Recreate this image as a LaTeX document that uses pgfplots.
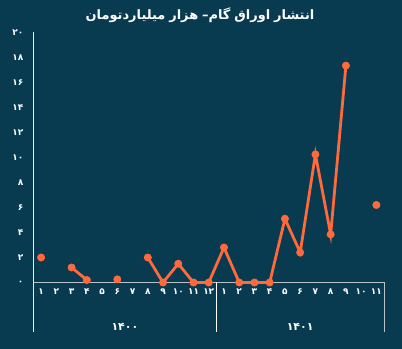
\documentclass[border=0pt]{standalone}
\usepackage{pgfplots}
\pgfplotsset{compat=1.18}
\usepackage{fontspec}
\setmainfont{DejaVu Sans}
\newfontfamily\fa[Script=Arabic]{DejaVu Sans}
\TeXXeTstate=1
\definecolor{bg}{HTML}{083A50}
\definecolor{org}{HTML}{FF6A3D}
\definecolor{axgrey}{HTML}{B8C2C8}
\begin{document}
\begin{tikzpicture}[x=1bp,y=1bp]
\fill[bg] (0,0) rectangle (402,349);
\begin{axis}[
  at={(33.5bp,66.5bp)}, anchor=south west,
  scale only axis, width=350.5bp, height=250bp,
  xmin=-0.5, xmax=22.5, ymin=0, ymax=20,
  clip=false, axis line style={draw=none},
  major tick length=0pt,
  xtick={0,...,22},
  xticklabels={۱,۲,۳,۴,۵,۶,۷,۸,۹,۱۰,۱۱,۱۲,۱,۲,۳,۴,۵,۶,۷,۸,۹,۱۰,۱۱},
  ytick={0,2,...,20},
  yticklabels={۰,۲,۴,۶,۸,۱۰,۱۲,۱۴,۱۶,۱۸,۲۰},
  ticklabel style={text=white, inner sep=0pt, font=\fa\bfseries\fontsize{9}{10}\selectfont},
  xticklabel style={anchor=center, yshift=-9.5bp},
  yticklabel style={anchor=east, xshift=-10bp},
  unbounded coords=jump,
]
\draw[axgrey, line width=1bp] (axis cs:-0.5,0) -- (axis cs:22.5,0);
\draw[white!85!gray, line width=1bp] (axis cs:-0.5,20) -- (axis cs:-0.5,-4);
\draw[white, line width=0.8bp] (axis cs:11.5,0) -- (axis cs:11.5,-4);
\draw[axgrey, line width=0.8bp] (axis cs:22.5,0) -- (axis cs:22.5,-4);
\node[text=white, font=\fa\bfseries\fontsize{11}{13}\selectfont] at (axis cs:5.5,-3.56) {۱۴۰۰};
\node[text=white, font=\fa\bfseries\fontsize{11}{13}\selectfont] at (axis cs:17,-3.56) {۱۴۰۱};
\addplot[org, line width=2.8bp, mark=*, mark size=3.7bp, mark options={solid, fill=org, draw=org, line width=0.5bp}] table[x=x, y=y] {
x y
0 2.0
1 nan
2 1.2
3 0.2
4 nan
5 0.25
6 nan
7 2.0
8 0
9 1.5
10 0
11 0
12 2.8
13 0
14 0
15 0
16 5.1
17 2.4
18 10.25
19 3.85
20 17.35
21 nan
22 6.2
};
\end{axis}
\node[text=white, font=\fa\bfseries\fontsize{13}{15}\selectfont] at (200,334) {\hbox{میلیاردتومان}\hspace{0.3em}\hbox{هزار}\hspace{0.3em}\hbox{–}\hbox{گام}\hspace{0.3em}\hbox{اوراق}\hspace{0.3em}\hbox{انتشار}};
\pgfresetboundingbox
\path[use as bounding box] (0,0) rectangle (402,349);
\end{tikzpicture}
\end{document}
